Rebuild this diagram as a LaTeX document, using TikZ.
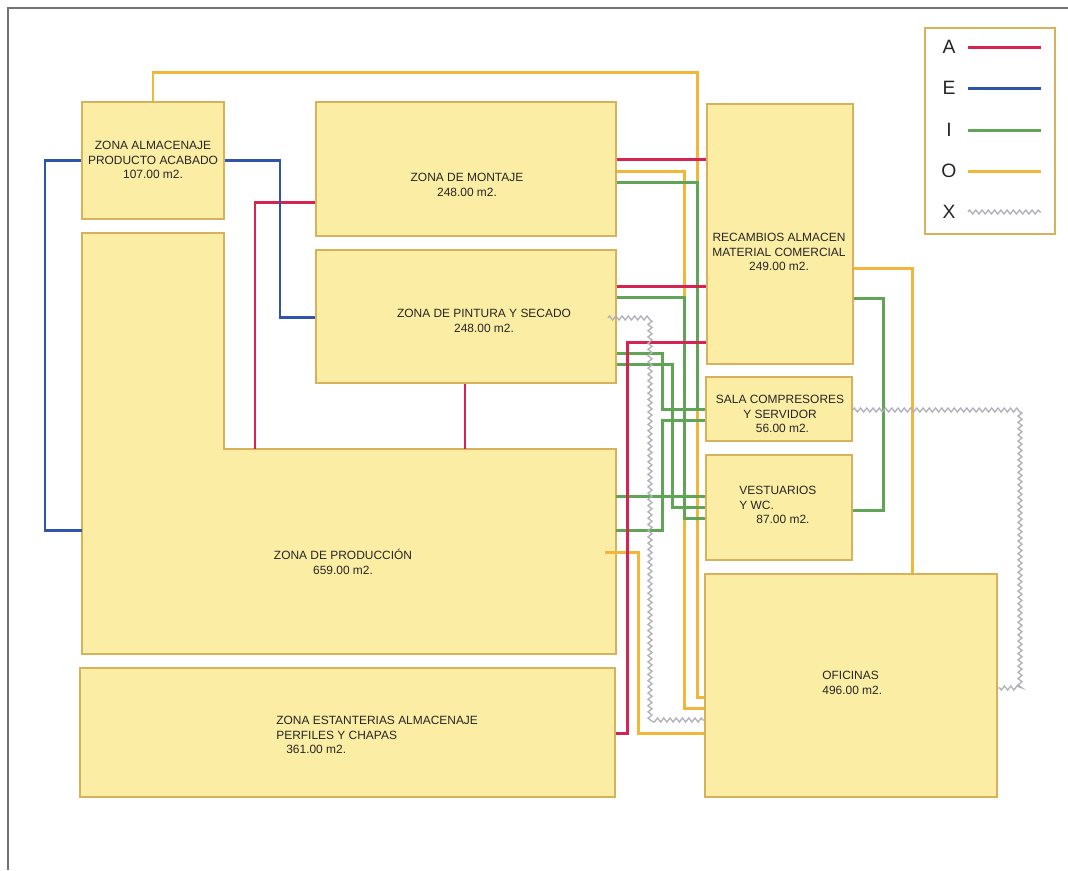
\documentclass[tikz,border=0pt]{standalone}
\usepackage{fontspec}
\setmainfont{Liberation Sans}
\usetikzlibrary{positioning,fit,decorations.pathmorphing}

\definecolor{zonafondo}{RGB}{251,237,163}
\definecolor{zonaborde}{RGB}{214,178,92}
\definecolor{colA}{RGB}{214,36,82}
\definecolor{colE}{RGB}{48,84,170}
\definecolor{colI}{RGB}{96,164,86}
\definecolor{colO}{RGB}{242,182,56}
\definecolor{colX}{RGB}{176,176,186}
\definecolor{marcogris}{RGB}{115,115,115}

\tikzset{
  zona/.style={draw=zonaborde, fill=zonafondo, line width=0.8pt, inner sep=0pt},
  rotulo/.style={font=\fontsize{6.8}{8.4}\selectfont, text=black!85, inner sep=0pt, align=center},
  letra/.style={font=\fontsize{11}{13}\selectfont, text=black!85, inner sep=0pt},
  lineaA/.style={draw=colA, line width=1.7pt},
  lineaE/.style={draw=colE, line width=1.7pt},
  lineaI/.style={draw=colI, line width=1.7pt},
  lineaO/.style={draw=colO, line width=1.7pt},
  lineaX/.style={draw=colX, line width=0.75pt, decorate,
    decoration={zigzag, segment length=1.25mm, amplitude=0.4mm}},
}

\begin{document}
\begin{tikzpicture}[x=0.02cm, y=-0.02cm]
    \useasboundingbox (0,0) rectangle (1068,870);
    \draw[marcogris, line width=0.9pt] (8,870) -- (8,8) -- (1068,8);

    % zonas
    \node[zona, fit={(82,102) (224,219)}] (almacenaje) {};
    \node[zona, fit={(316,102) (616,236)}] (montaje) {};
    \node[zona, fit={(316,250) (616,383)}] (pintura) {};
    \draw[zona] (82,233) -- (224,233) -- (224,449) coordinate (prodB)
        -- (616,449) coordinate (prodC) -- (616,654) -- (82,654) coordinate (prodE) -- cycle;
    \node[zona, fit={(80,668) (615,797)}] (estanterias) {};
    \node[zona, fit={(707,104) (853,364)}] (recambios) {};
    \node[zona, fit={(706,377) (852,441)}] (sala) {};
    \node[zona, fit={(706,455) (852,560)}] (vestuarios) {};
    \node[zona, fit={(705,574) (997,797)}] (oficinas) {};

    \node[rotulo] (almacenaje-txt) at (153,160) {ZONA ALMACENAJE\\PRODUCTO ACABADO\\107.00 m2.};
    \node[rotulo] (montaje-txt) at (467,185) {ZONA DE MONTAJE\\248.00 m2.};
    \node[rotulo] (pintura-txt) at (484,321) {ZONA DE PINTURA Y SECADO\\248.00 m2.};
    \node[rotulo] (produccion-txt) at (343,562) {ZONA DE PRODUCCIÓN\\659.00 m2.};
    \node[rotulo, align=left, anchor=west] (estanterias-txt) at (276,735)
        {ZONA ESTANTERIAS ALMACENAJE\\PERFILES Y CHAPAS\\\hspace*{0.2cm}361.00 m2.};
    \node[rotulo] (recambios-txt) at (779,252) {RECAMBIOS ALMACEN\\MATERIAL COMERCIAL\\249.00 m2.};
    \node[rotulo] (sala-txt) at (780,414) {SALA COMPRESORES\\Y SERVIDOR\\\hspace*{0.1cm}56.00 m2.};
    \node[rotulo, align=left, anchor=west] (vestuarios-txt) at (739,505)
        {VESTUARIOS\\Y WC.\\\hspace*{0.34cm}87.00 m2.};
    \node[rotulo, align=left, anchor=west] (oficinas-txt) at (822,683) {OFICINAS\\496.00 m2.};

    % O
    \draw[lineaO] (almacenaje.north) |- (697,72) |- (oficinas.west |- 0,697);
    \draw[lineaO] (montaje.east |- 0,171) -| (684,708) -- (oficinas.west |- 0,708);
    \coordinate (prodO) at (605,552);
    \draw[lineaO] (prodO) -| (638,733) -- (oficinas.west |- 0,733);
    \draw[lineaO] (recambios.east |- 0,268) -| (912,0 |- oficinas.north);

    % I
    \draw[lineaI] (montaje.east |- 0,182) -| (697,409) -- (sala.west |- 0,409);
    \draw[lineaI] (pintura.east |- 0,297) -| (684,518) -- (vestuarios.west |- 0,518);
    \draw[lineaI] (pintura.east |- 0,353) -| (662,409) -- (sala.west |- 0,409);
    \draw[lineaI] (pintura.east |- 0,364) -| (672,507) -- (vestuarios.west |- 0,507);
    \draw[lineaI] (prodC |- 0,530) -| (662,420) -- (sala.west |- 0,420);
    \draw[lineaI] (prodC |- 0,496) -- (vestuarios.west |- 0,496);
    \draw[lineaI] (recambios.east |- 0,298) -| (883,510) -- (vestuarios.east |- 0,510);

    % A
    \draw[lineaA] (montaje.east |- 0,159) -- (recambios.west |- 0,159);
    \draw[lineaA] (pintura.east |- 0,286) -- (recambios.west |- 0,286);
    \draw[lineaA] (recambios.west |- 0,342) -| (627,733) -- (estanterias.east |- 0,733);
    \draw[lineaA] (465,0 |- pintura.south) -- (465,0 |- prodB);
    \draw[lineaA] (montaje.west |- 0,202) -| (255,0 |- prodB);

    % E
    \draw[lineaE] (almacenaje.east |- 0,160) -| (280,317) -- (pintura.west |- 0,317);
    \draw[lineaE] (almacenaje.west |- 0,160) -| (45,530) -- (prodE |- 0,530);

    % X
    \draw[lineaX] (sala.east |- 0,410) -| (1020,688) -- (oficinas.east |- 0,688);
    \coordinate (pinturaX) at (608,318);
    \draw[lineaX] (pinturaX) -| (650,720) -- (oficinas.west |- 0,720);

    % leyenda
    \node[draw=zonaborde, line width=0.6pt, inner sep=0pt, fit={(925,28) (1055,234)}] (leyenda) {};
    \foreach \l/\y in {A/47,E/88,I/130,O/171,X/212} {
        \node[letra] (ley\l) at (949,\y) {\l};
        \draw[linea\l] (968,\y) -- (1041,\y);
    }
\end{tikzpicture}
\end{document}
